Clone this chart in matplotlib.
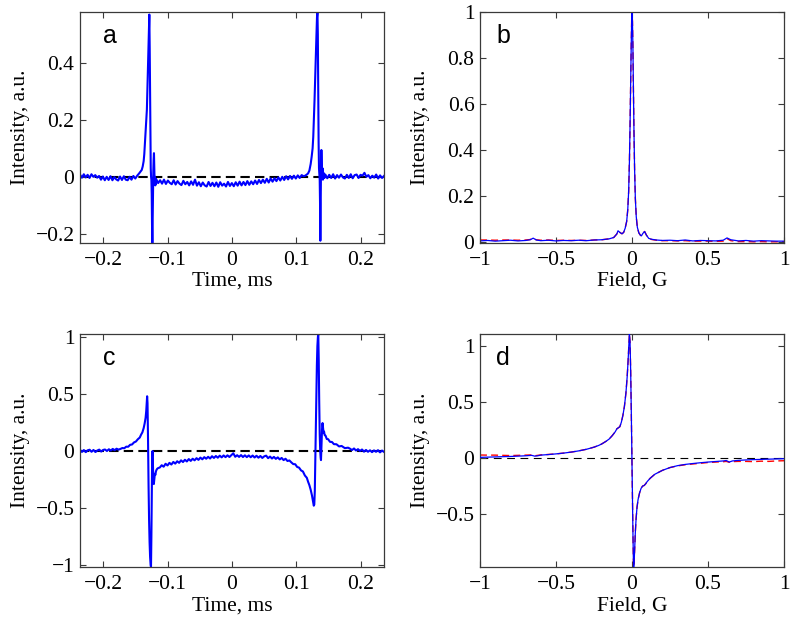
import numpy as np
import matplotlib
matplotlib.use("Agg")
import matplotlib.pyplot as plt
from matplotlib.ticker import FuncFormatter

# ---------------- data ----------------
# panel a : time (ms) vs intensity
a_base_left = [0.008, -0.003, 0.009, -0.002, 0.007, -0.004, 0.009, 0.0, 0.006, -0.003,
               0.003, -0.010, 0.001, -0.012, 0.0, -0.011, 0.002, -0.012, -0.001, -0.009,
               -0.013, 0.001, -0.011, 0.002, -0.010, -0.012, 0.0, -0.010, 0.003, -0.006, 0.004]
a_base_left_t = (-0.2357, -0.147)
a_spike1_t = [-0.1455, -0.144, -0.142, -0.140, -0.1385, -0.137, -0.136, -0.135, -0.1335, -0.132,
              -0.131, -0.130, -0.129, -0.1282, -0.1276, -0.127, -0.1264, -0.126, -0.1255, -0.125,
              -0.1245, -0.124, -0.1235, -0.123, -0.1225, -0.122, -0.1215, -0.121, -0.1205, -0.12,
              -0.1195, -0.119, -0.1185, -0.118]
a_spike1_y = [0.008, 0.012, 0.018, 0.024, 0.036, 0.055, 0.08, 0.118, 0.17, 0.235,
              0.32, 0.41, 0.5, 0.569, 0.45, 0.28, 0.1, 0.03, 0.0, -0.01,
              -0.06, -0.17, -0.232, -0.14, -0.05, 0.02, 0.06, 0.083, 0.03, -0.02,
              0.0, -0.03, -0.008, -0.026]
a_mid = [-0.008, -0.022, -0.012, -0.024, -0.010, -0.025, -0.013, -0.021, -0.026, -0.012,
         -0.027, -0.015, -0.024, -0.029, -0.014, -0.026, -0.018, -0.030, -0.016, -0.028,
         -0.010, -0.031, -0.019, -0.033, -0.020, -0.030, -0.034, -0.018, -0.032, -0.021,
         -0.033, -0.020, -0.035, -0.019, -0.031, -0.024, -0.034, -0.018, -0.032, -0.022,
         -0.033, -0.019, -0.031, -0.017, -0.030, -0.018, -0.029, -0.015, -0.028, -0.016,
         -0.026, -0.013, -0.025, -0.011, -0.022, -0.010, -0.021, -0.007, -0.020, -0.006,
         -0.017, -0.005, -0.015, -0.002, -0.013, 0.0, -0.011, 0.002, -0.009, 0.003,
         -0.007, 0.004, -0.006, 0.005, -0.004, 0.006, 0.002]
a_mid_t = (-0.1175, 0.111)
a_spike2_t = [0.1135, 0.116, 0.118, 0.120, 0.122, 0.1235, 0.125, 0.126, 0.127, 0.128,
              0.129, 0.130, 0.131, 0.1318, 0.1325, 0.1331, 0.1337, 0.1343, 0.1349, 0.1355,
              0.136, 0.1365, 0.137, 0.1375, 0.138, 0.1386, 0.1392, 0.1398, 0.1404, 0.141,
              0.1416, 0.1422, 0.1428, 0.1434, 0.144]
a_spike2_y = [0.004, 0.008, 0.012, 0.022, 0.045, 0.07, 0.1, 0.14, 0.2, 0.27,
              0.35, 0.42, 0.5, 0.56, 0.578, 0.5, 0.32, 0.12, 0.03, 0.005,
              -0.01, -0.09, -0.224, -0.1, 0.02, 0.094, 0.05, 0.0, 0.03, -0.01,
              0.015, -0.005, 0.01, -0.004, 0.007]
a_base_right = [0.008, -0.005, 0.007, -0.004, 0.009, -0.006, 0.006, -0.003, 0.008, -0.002,
                -0.006, 0.007, -0.004, 0.009, -0.005, 0.006, 0.008, -0.004, 0.007, 0.004,
                0.014, 0.0, 0.006, -0.005, 0.004, -0.003, 0.008, -0.006, 0.005, -0.004, 0.003]
a_base_right_t = (0.1447, 0.2357)

# panel c : time (ms) vs intensity
c_base_left = [0.01, -0.008, 0.008, -0.01, 0.006, 0.011, -0.007, 0.009, -0.009, 0.004,
               0.012, -0.005, 0.009, 0.013, 0.0, 0.015, 0.004, 0.018, 0.007, 0.02, 0.012]
c_base_left_t = (-0.2357, -0.176)
c_spike1_t = [-0.173, -0.17, -0.167, -0.164, -0.161, -0.158, -0.155, -0.152, -0.149, -0.146,
              -0.143, -0.141, -0.139, -0.137, -0.1355, -0.134, -0.133, -0.1322, -0.1316, -0.131,
              -0.1302, -0.1294, -0.1286, -0.1278, -0.127, -0.1262, -0.1256, -0.125, -0.1244, -0.1238,
              -0.1232, -0.1226, -0.122, -0.1212, -0.1204, -0.1196, -0.1188, -0.118, -0.117, -0.1158,
              -0.1145]
c_spike1_y = [0.018, 0.026, 0.024, 0.038, 0.037, 0.054, 0.057, 0.075, 0.083, 0.103,
              0.118, 0.143, 0.163, 0.2, 0.24, 0.29, 0.35, 0.42, 0.48, 0.42,
              0.1, -0.3, -0.6, -0.8, -0.93, -1.0, -1.018, -0.75, -0.35, -0.05,
              0.0, -0.12, -0.24, -0.29, -0.24, -0.2, -0.21, -0.18, -0.165, -0.155,
              -0.15]
c_mid = [-0.145, -0.125, -0.138, -0.112, -0.127, -0.104, -0.119, -0.096, -0.111, -0.090,
         -0.104, -0.082, -0.097, -0.077, -0.092, -0.071, -0.087, -0.068, -0.082, -0.063,
         -0.078, -0.058, -0.073, -0.054, -0.068, -0.051, -0.066, -0.046, -0.061, -0.044,
         -0.059, -0.041, -0.056, -0.039, -0.054, -0.038, -0.053, -0.036, -0.020, -0.051,
         -0.037, -0.052, -0.036, -0.053, -0.038, -0.054, -0.039, -0.055, -0.040, -0.057,
         -0.042, -0.059, -0.044, -0.061, -0.047, -0.041, -0.063, -0.049, -0.066, -0.052,
         -0.069, -0.056, -0.074, -0.061, -0.080, -0.068, -0.088, -0.083]
c_mid_t = (-0.112, 0.089)
c_spike2_t = [0.092, 0.095, 0.098, 0.101, 0.104, 0.107, 0.11, 0.113, 0.116, 0.118,
              0.12, 0.122, 0.124, 0.1255, 0.1268, 0.1276, 0.1284, 0.1292, 0.13, 0.1308,
              0.1316, 0.1324, 0.1332, 0.1338, 0.1345, 0.1352, 0.136, 0.1368, 0.1375, 0.138,
              0.1388, 0.1396, 0.1404, 0.1412, 0.142, 0.1428, 0.1436, 0.145, 0.147, 0.149,
              0.152, 0.155, 0.158, 0.162, 0.166, 0.17, 0.175, 0.18]
c_spike2_y = [-0.1, -0.115, -0.116, -0.14, -0.146, -0.17, -0.18, -0.215, -0.235, -0.27,
              -0.3, -0.34, -0.39, -0.44, -0.48, -0.47, -0.35, -0.1, 0.2, 0.5,
              0.75, 0.92, 1.0, 1.026, 0.8, 0.45, 0.15, 0.0, -0.06, -0.08,
              0.05, 0.19, 0.245, 0.2, 0.16, 0.17, 0.14, 0.135, 0.105, 0.104,
              0.08, 0.079, 0.06, 0.059, 0.04, 0.044, 0.025, 0.029]
c_base_right = [0.02, 0.008, 0.022, 0.004, 0.016, 0.0, 0.013, -0.006, 0.009, -0.007,
                0.006, -0.01, 0.005, -0.007, 0.007, -0.012, 0.004, -0.008]
c_base_right_t = (0.183, 0.2357)

# panel b : field (G) vs intensity
b_field = [-1.0, -0.95, -0.9, -0.85, -0.8, -0.75, -0.7, -0.67, -0.65, -0.63,
           -0.6, -0.55, -0.5, -0.45, -0.4, -0.35, -0.3, -0.25, -0.2, -0.15,
           -0.12, -0.1, -0.092, -0.08, -0.066, -0.055, -0.045, -0.035, -0.028, -0.022,
           -0.017, -0.013, -0.009, -0.005, -0.002, 0.0, 0.003, 0.006, 0.009, 0.013,
           0.017, 0.022, 0.028, 0.035, 0.045, 0.055, 0.062, 0.072, 0.083, 0.095,
           0.11, 0.13, 0.16, 0.2, 0.25, 0.3, 0.35, 0.4, 0.45, 0.5,
           0.55, 0.6, 0.625, 0.65, 0.7, 0.75, 0.8, 0.85, 0.9, 0.95, 1.0]
b_blue = [0.005, 0.007, 0.004, 0.006, 0.008, 0.005, 0.007, 0.01, 0.017, 0.009,
          0.006, 0.008, 0.005, 0.007, 0.006, 0.008, 0.006, 0.009, 0.01, 0.014,
          0.02, 0.035, 0.049, 0.042, 0.036, 0.042, 0.06, 0.09, 0.14, 0.22,
          0.35, 0.5, 0.68, 0.86, 0.97, 1.0, 0.96, 0.85, 0.68, 0.48,
          0.32, 0.19, 0.11, 0.065, 0.04, 0.03, 0.027, 0.038, 0.046, 0.03,
          0.016, 0.012, 0.009, 0.007, 0.008, 0.006, 0.009, 0.005, 0.007, 0.006,
          0.005, 0.008, 0.018, 0.01, 0.005, 0.007, 0.004, 0.006, 0.005, 0.004, 0.004]
b_red = [0.009, 0.009, 0.008, 0.009, 0.009, 0.008, 0.009, 0.011, 0.016, 0.01,
         0.008, 0.009, 0.007, 0.008, 0.007, 0.008, 0.007, 0.009, 0.01, 0.014,
         0.02, 0.035, 0.049, 0.042, 0.036, 0.042, 0.06, 0.09, 0.14, 0.22,
         0.35, 0.5, 0.68, 0.86, 0.97, 1.0, 0.96, 0.85, 0.68, 0.48,
         0.32, 0.19, 0.11, 0.065, 0.04, 0.03, 0.027, 0.038, 0.046, 0.03,
         0.016, 0.011, 0.008, 0.006, 0.006, 0.005, 0.006, 0.004, 0.004, 0.004,
         0.003, 0.004, 0.015, 0.006, 0.002, 0.002, 0.001, 0.002, 0.001, 0.001, 0.001]

# panel d : field (G) vs intensity
d_field = [-1.0, -0.95, -0.9, -0.85, -0.8, -0.75, -0.7, -0.66, -0.64, -0.62,
           -0.6, -0.55, -0.5, -0.45, -0.4, -0.35, -0.3, -0.25, -0.22, -0.2,
           -0.17, -0.15, -0.13, -0.11, -0.1, -0.09, -0.08, -0.07, -0.06, -0.05,
           -0.04, -0.032, -0.026, -0.021, -0.017, -0.013, -0.009, -0.005, -0.002, 0.002,
           0.006, 0.009, 0.011, 0.014, 0.018, 0.022, 0.027, 0.033, 0.04, 0.05,
           0.06, 0.07, 0.08, 0.09, 0.1, 0.12, 0.15, 0.2, 0.25, 0.3,
           0.35, 0.4, 0.45, 0.5, 0.55, 0.6, 0.62, 0.64, 0.66, 0.7,
           0.75, 0.8, 0.85, 0.9, 0.95, 1.0]
d_blue = [0.006, 0.008, 0.01, 0.012, 0.014, 0.017, 0.02, 0.024, 0.017, 0.02,
          0.026, 0.031, 0.037, 0.044, 0.053, 0.064, 0.078, 0.097, 0.112, 0.125,
          0.15, 0.17, 0.2, 0.235, 0.26, 0.27, 0.28, 0.32, 0.38, 0.46,
          0.58, 0.72, 0.86, 1.0, 1.107, 1.04, 0.8, 0.45, 0.15, -0.25,
          -0.65, -0.9, -0.973, -0.93, -0.8, -0.66, -0.54, -0.44, -0.37, -0.31,
          -0.27, -0.25, -0.245, -0.23, -0.21, -0.18, -0.145, -0.11, -0.085, -0.068,
          -0.057, -0.049, -0.042, -0.036, -0.031, -0.026, -0.022, -0.036, -0.026, -0.021,
          -0.017, -0.014, -0.012, -0.01, -0.008, -0.006]
d_red = [0.027, 0.026, 0.026, 0.024, 0.022, 0.024, 0.026, 0.028, 0.02, 0.024,
         0.028, 0.032, 0.037, 0.044, 0.053, 0.064, 0.078, 0.097, 0.112, 0.125,
         0.15, 0.17, 0.2, 0.235, 0.26, 0.27, 0.28, 0.32, 0.38, 0.46,
         0.58, 0.72, 0.86, 1.0, 1.107, 1.04, 0.8, 0.45, 0.15, -0.25,
         -0.65, -0.9, -0.973, -0.93, -0.8, -0.66, -0.54, -0.44, -0.37, -0.31,
         -0.27, -0.25, -0.245, -0.23, -0.21, -0.18, -0.145, -0.11, -0.085, -0.07,
         -0.06, -0.053, -0.047, -0.04, -0.036, -0.033, -0.03, -0.038, -0.032, -0.03,
         -0.03, -0.032, -0.028, -0.03, -0.026, -0.024]

time_ticks = [-0.2, -0.1, 0, 0.1, 0.2]
field_ticks = [-1, -0.5, 0, 0.5, 1]
a_yticks = [-0.2, 0, 0.2, 0.4]
b_yticks = [0, 0.2, 0.4, 0.6, 0.8, 1]
c_yticks = [-1, -0.5, 0, 0.5, 1]
d_yticks = [-0.5, 0, 0.5, 1]
panel_letters = ["a", "b", "c", "d"]
xlabels = ["Time, ms", "Field, G", "Time, ms", "Field, G"]
ylabel = "Intensity, a.u."


def seg(vals, span):
    return np.linspace(span[0], span[1], len(vals))


a_t = np.concatenate([seg(a_base_left, a_base_left_t), a_spike1_t, seg(a_mid, a_mid_t),
                      a_spike2_t, seg(a_base_right, a_base_right_t)])
a_y = np.concatenate([a_base_left, a_spike1_y, a_mid, a_spike2_y, a_base_right])
c_t = np.concatenate([seg(c_base_left, c_base_left_t), c_spike1_t, seg(c_mid, c_mid_t),
                      c_spike2_t, seg(c_base_right, c_base_right_t)])
c_y = np.concatenate([c_base_left, c_spike1_y, c_mid, c_spike2_y, c_base_right])

# ---------------- style ----------------
serif = "Liberation Serif"
sans = "Liberation Sans"
fs = 15.5
spine_col = "#3a3a3a"

fig = plt.figure(figsize=(8, 6.24), dpi=100)
pos = {
    "a": [0.100, 0.6106, 0.380, 0.3702],
    "b": [0.600, 0.6106, 0.380, 0.3702],
    "c": [0.100, 0.0913, 0.380, 0.3734],
    "d": [0.600, 0.0913, 0.380, 0.3734],
}
fmt = FuncFormatter(lambda v, p: f"{v:g}".replace("-", "\u2212"))


def style(ax, xt, yt, xlab, letter, lx):
    ax.set_xticks(xt)
    ax.set_yticks(yt)
    ax.xaxis.set_major_formatter(fmt)
    ax.yaxis.set_major_formatter(fmt)
    ax.tick_params(direction="in", length=4, width=0.8, top=True, right=True,
                   colors=spine_col, labelcolor="black", labelsize=fs)
    ax.tick_params(axis="x", pad=6)
    ax.tick_params(axis="y", pad=4)
    for lab in ax.get_xticklabels() + ax.get_yticklabels():
        lab.set_fontfamily(serif)
    for s in ax.spines.values():
        s.set_color(spine_col)
        s.set_linewidth(0.9)
    ax.set_xlabel(xlab, fontsize=fs, family=serif)
    ax.set_ylabel(ylabel, fontsize=fs, family=serif)
    ax.xaxis.set_label_coords(0.5, -0.125)
    ax.yaxis.set_label_coords(-0.165, 0.5)
    ax.text(lx, 0.866, letter, transform=ax.transAxes, fontsize=18, family=sans,
            ha="left", va="baseline")


# a
ax = fig.add_axes(pos["a"])
ax.axhline(0, color="k", lw=1.5, dashes=[4.5, 2.5], zorder=1)
ax.plot(a_t, a_y, color=(0, 0, 1), lw=1.5, zorder=2)
ax.set_xlim(-0.2357, 0.2357)
ax.set_ylim(min(a_y), max(a_y))
style(ax, time_ticks, a_yticks, xlabels[0], panel_letters[0], 0.076)

# b
ax = fig.add_axes(pos["b"])
ax.plot(b_field, b_red, color="red", lw=1.0, dashes=[5, 3], zorder=1)
ax.plot(b_field, b_blue, color=(0, 0, 1), lw=0.9, zorder=2)
ax.set_xlim(-1, 1)
ax.set_ylim(-0.004, 1.0)
style(ax, field_ticks, b_yticks, xlabels[1], panel_letters[1], 0.053)

# c
ax = fig.add_axes(pos["c"])
ax.axhline(0, color="k", lw=1.5, dashes=[4.5, 2.5], zorder=1)
ax.plot(c_t, c_y, color=(0, 0, 1), lw=1.5, zorder=2)
ax.set_xlim(-0.2357, 0.2357)
ax.set_ylim(min(c_y), max(c_y))
style(ax, time_ticks, c_yticks, xlabels[2], panel_letters[2], 0.076)

# d
ax = fig.add_axes(pos["d"])
ax.axhline(0, color="k", lw=0.8, dashes=[7, 5], zorder=1)
ax.plot(d_field, d_red, color="red", lw=1.0, dashes=[5, 3], zorder=2)
ax.plot(d_field, d_blue, color=(0, 0, 1), lw=0.9, zorder=3)
ax.set_xlim(-1, 1)
ax.set_ylim(min(d_blue), max(d_blue))
style(ax, field_ticks, d_yticks, xlabels[3], panel_letters[3], 0.053)

fig.savefig("out.png", dpi=100)
